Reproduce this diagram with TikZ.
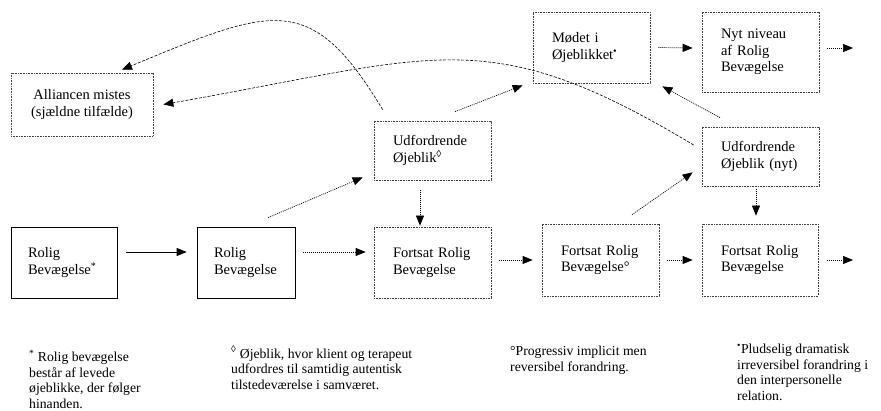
\documentclass[tikz,border=0pt]{standalone}
\usepackage{fontspec}
\setmainfont{Liberation Serif}
\usepackage{tikz}
\usetikzlibrary{arrows.meta}

\begin{document}
\begin{tikzpicture}[
x=1pt, y=-1pt,
box/.style={draw, line width=0.7pt, align=left, inner xsep=19pt, inner ysep=0pt, font=\fontsize{14.5}{16.7}\selectfont},
dotbox/.style={box, draw=black!75, dash pattern=on 0.8pt off 0.8pt},
arrow/.style={-{Triangle[length=10pt,width=8pt]}, line width=0.7pt},
dotarrow/.style={arrow, dash pattern=on 1pt off 1pt},
curvearrow/.style={arrow, line width=0.6pt, dash pattern=on 3pt off 1.5pt},
note/.style={anchor=north west, align=left, inner sep=0pt, font=\fontsize{13.7}{15.6}\selectfont}
]
\useasboundingbox (0,0) rectangle (881,411);

% top row
\node[dotbox, align=center, minimum width=142pt, minimum height=63pt] (al) at (82,104.5) {Alliancen mistes\\(sjældne tilfælde)};
\node[dotbox, text width=79pt, minimum height=59pt] (ud) at (432.5,150.5) {Udfordrende\\Øjeblik\textsuperscript{◊}};
\node[dotbox, text width=79pt, minimum height=71pt] (md) at (591.5,47.5) {Mødet i\\Øjeblikket\textsuperscript{•}};
\node[dotbox, text width=79pt, minimum height=80pt] (ny) at (760.5,52) {Nyt niveau\\af Rolig\\Bevægelse};
\node[dotbox, text width=79pt, minimum height=59pt] (un) at (760.5,156.5) {Udfordrende\\Øjeblik (nyt)};

% bottom row
\node[box, inner xsep=17pt, text width=72pt, minimum height=71pt] (rb1) at (64,262.5) {Rolig\\Bevægelse\textsuperscript{*}};
\node[box, inner xsep=17pt, text width=64pt, minimum height=71pt] (rb2) at (246,262.5) {Rolig\\Bevægelse};
\node[dotbox, text width=79pt, minimum height=71pt] (fr1) at (432.5,262.5) {Fortsat Rolig\\Bevægelse};
\node[dotbox, text width=79pt, minimum height=72pt] (fr2) at (600.5,260) {Fortsat Rolig\\Bevægelse°};
\node[dotbox, text width=78pt, minimum height=72pt] (fr3) at (760,260) {Fortsat Rolig\\Bevægelse};

\coordinate (out1) at (853,260);
\coordinate (out2) at (853,48);

% footnotes
\node[note] (n1) at (29,350) {\textsuperscript{*} Rolig bevægelse\\består af levede\\øjeblikke, der følger\\hinanden.};
\node[note] (n2) at (231,346) {\textsuperscript{◊} Øjeblik, hvor klient og terapeut\\udfordres til samtidig autentisk\\tilstedeværelse i samværet.};
\node[note] (n3) at (510,346) {°Progressiv implicit men\\reversibel forandring.};
\node[note] (n4) at (737,344) {\textsuperscript{•}Pludselig dramatisk\\irreversibel forandring i\\den interpersonelle\\relation.};

% connectors
\draw[arrow] ([xshift=9pt,yshift=10.5pt]rb1.east) -- ([xshift=-10pt,yshift=10.5pt]rb2.west);
\draw[dotarrow] ([xshift=8pt,yshift=10.5pt]rb2.east) -- ([xshift=-8pt,yshift=10.5pt]fr1.west);
\draw[dotarrow] ([xshift=8pt,yshift=2.5pt]fr1.east) -- ([xshift=-9pt]fr2.west);
\draw[dotarrow] ([xshift=8pt]fr2.east) -- ([xshift=-9pt]fr3.west);
\draw[dotarrow] ([xshift=9pt]fr3.east) -- (out1);
\draw[dotarrow] ([xshift=8pt]md.east) -- ([xshift=-9pt,yshift=4pt]ny.west);
\draw[dotarrow] ([xshift=8pt,yshift=4pt]ny.east) -- (out2);
\draw[dotarrow] ([xshift=-12.5pt,yshift=-10pt]ud.south) -- ([xshift=-12.5pt,yshift=1pt]fr1.north);
\draw[dotarrow] ([xshift=-4.5pt,yshift=-3pt]un.south) -- ([xshift=-4pt,yshift=8pt]fr3.north);
\draw[dotarrow] ([xshift=22pt,yshift=9pt]rb2.north) -- ([xshift=-11pt,yshift=3pt]ud.south west);
\draw[dotarrow] ([xshift=22.5pt,yshift=9pt]ud.north) -- ([xshift=-10pt,yshift=-2pt]md.south west);
\draw[dotarrow] ([xshift=31.5pt,yshift=9pt]fr2.north) -- ([xshift=-9pt,yshift=14pt]un.south west);
\draw[dotarrow] ([xshift=-40.5pt,yshift=9pt]un.north) -- ([xshift=12pt,yshift=-3pt]md.south east);
\draw[curvearrow] ([xshift=9pt,yshift=11pt]ud.north west) .. controls +(-72,-120) and +(150,-62) .. ([xshift=40pt,yshift=3pt]al.north);
\draw[curvearrow] ([xshift=-8pt,yshift=11.5pt]un.west) .. controls +(-206,-123.6) and +(276,-48.7) .. ([xshift=10pt]al.east);
\end{tikzpicture}
\end{document}
